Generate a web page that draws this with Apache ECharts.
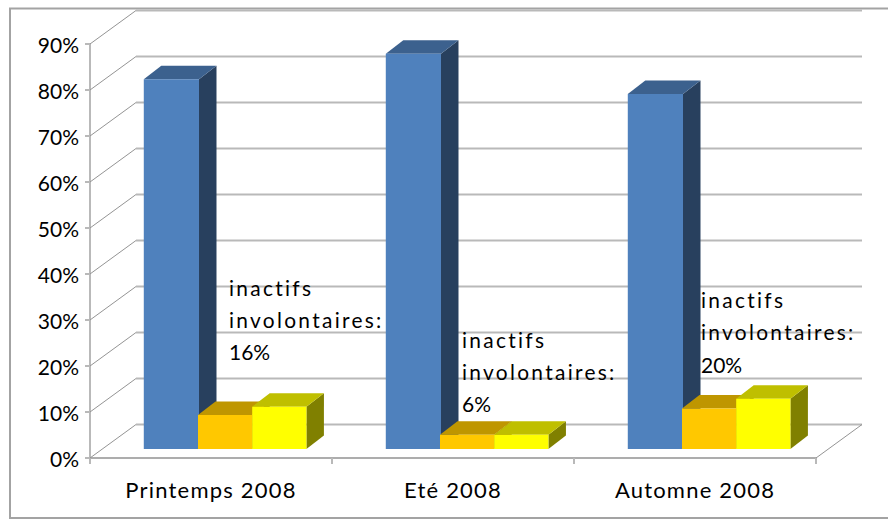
<!DOCTYPE html>
<html>
<head>
<meta charset="utf-8">
<style>
  html, body { margin: 0; padding: 0; background: #fff; }
  #chart { width: 888px; height: 519px; }
  /* echarts has no letter spacing option, the source text is tracked out */
  #chart text[style*="20.9px"] { letter-spacing: 2.3px; }
  #chart text[style*="22px"] { letter-spacing: 1.2px; }
</style>
<script src="https://cdn.jsdelivr.net/npm/echarts@6/dist/echarts.min.js"></script>
</head>
<body>
<div id="chart"></div>
<script>
const categories = ["Printemps 2008", "Eté 2008", "Automne 2008"];
const blueValues = [80.4, 85.9, 77.2];
const orangeValues = [7.4, 3.1, 8.8];
const yellowValues = [9.2, 3.1, 10.9];
const tickValues = [0, 10, 20, 30, 40, 50, 60, 70, 80, 90];
const noteLabel = "inactifs\ninvolontaires:";
const notePercents = ["16%", "6%", "20%"];

const chart = echarts.init(document.getElementById("chart"), null, { renderer: "svg" });

// depth of the fake 3d box and of the bars in it
const wallDx = 46, wallDy = -33.5;
const barOffsetDx = 14.1, barOffsetDy = -9;
const barDx = 17.5, barDy = -13.5;

const wallLine = { stroke: "#b9b9b9", lineWidth: 2 };
const sideLine = { stroke: "#949494", lineWidth: 1 };

const renderWall = (params, api) => {
  const p = api.coord([0, api.value(0)]);
  const x0 = params.coordSys.x;
  const x1 = x0 + params.coordSys.width;
  const y = p[1];
  const children = [
    { type: "line", shape: { x1: x0, y1: y, x2: x0 + wallDx, y2: y + wallDy }, style: sideLine },
    { type: "line", shape: { x1: x0 + wallDx, y1: y + wallDy, x2: x1 + wallDx, y2: y + wallDy }, style: wallLine },
  ];
  if (api.value(0) === 0) {
    children.push({ type: "line", shape: { x1: x1, y1: y, x2: x1 + wallDx, y2: y + wallDy }, style: sideLine });
  }
  return { type: "group", children };
};

const renderBar = (slot, front, top, side) => (params, api) => {
  const band = api.size([1, 0])[0];
  const step = band * 0.224;
  // the blue bar is a pixel wider and runs under the orange one
  const w = slot === 0 ? step + 1 : step;
  const base = api.coord([api.value(0), 0]);
  const head = api.coord([api.value(0), api.value(1)]);
  const x = base[0] + barOffsetDx + (slot - 1.5) * step;
  const yb = base[1] + barOffsetDy;
  const yt = head[1] + barOffsetDy;
  return {
    type: "group",
    children: [
      { type: "polygon", shape: { points: [[x + w, yt], [x + w + barDx, yt + barDy], [x + w + barDx, yb + barDy], [x + w, yb]] }, style: { fill: side } },
      { type: "polygon", shape: { points: [[x, yt], [x + barDx, yt + barDy], [x + w + barDx, yt + barDy], [x + w, yt]] }, style: { fill: top } },
      { type: "rect", shape: { x: x, y: yt, width: w, height: yb - yt }, style: { fill: front } },
    ],
  };
};

const barSeries = (values, slot, front, top, side) => ({
  type: "custom",
  clip: false,
  renderItem: renderBar(slot, front, top, side),
  encode: { x: 0, y: 1 },
  data: values.map((v, i) => [i, v]),
});

const noteText = (text, font, left, top) => ({
  type: "text",
  left: left,
  top: top,
  z: 20,
  style: { text: text, font: font, lineHeight: 31.5, fill: "#000" },
});

chart.setOption({
  animation: false,
  grid: { left: 90, right: 72, top: 44, bottom: 61 },
  xAxis: {
    type: "category",
    data: categories,
    axisLine: { lineStyle: { color: "#adadad", width: 2 } },
    axisTick: { show: true, length: 6, lineStyle: { color: "#b9b9b9", width: 2 } },
    axisLabel: { color: "#000", fontFamily: "Lato", fontSize: 22, margin: 20 },
  },
  yAxis: {
    type: "value",
    min: 0,
    max: 90,
    interval: 10,
    splitLine: { show: false },
    axisLine: { show: true, lineStyle: { color: "#b9b9b9", width: 2 } },
    axisTick: { show: true, length: 5, lineStyle: { color: "#b9b9b9", width: 2 } },
    axisLabel: {
      color: "#000",
      fontFamily: "Lato",
      fontSize: 21,
      margin: 11,
      padding: [4, 0, 0, 0],
      formatter: (v) => (tickValues.includes(v) ? v + "%" : ""),
    },
  },
  series: [
    {
      type: "custom",
      clip: false,
      renderItem: renderWall,
      encode: { y: 0 },
      data: tickValues.map((v) => [v]),
    },
    barSeries(blueValues, 0, "#4f81bd", "#3c618e", "#28405e"),
    barSeries(orangeValues, 1, "#ffc800", "#bf9600", "#806400"),
    barSeries(yellowValues, 2, "#ffff00", "#bfbf00", "#808000"),
  ],
  graphic: [
    { type: "rect", z: 0, shape: { x: 10, y: 8.5, width: 900, height: 509.5 }, style: { fill: "none", stroke: "#a3a3a3", lineWidth: 2 } },
    noteText(noteLabel, "20.9px Lato", 229, 272),
    noteText(notePercents[0], "21px Lato", 229, 336),
    noteText(noteLabel, "20.9px Lato", 462, 324),
    noteText(notePercents[1], "21px Lato", 462, 388),
    noteText(noteLabel, "20.9px Lato", 701, 284),
    noteText(notePercents[2], "21px Lato", 701, 349),
  ],
});
</script>
</body>
</html>
